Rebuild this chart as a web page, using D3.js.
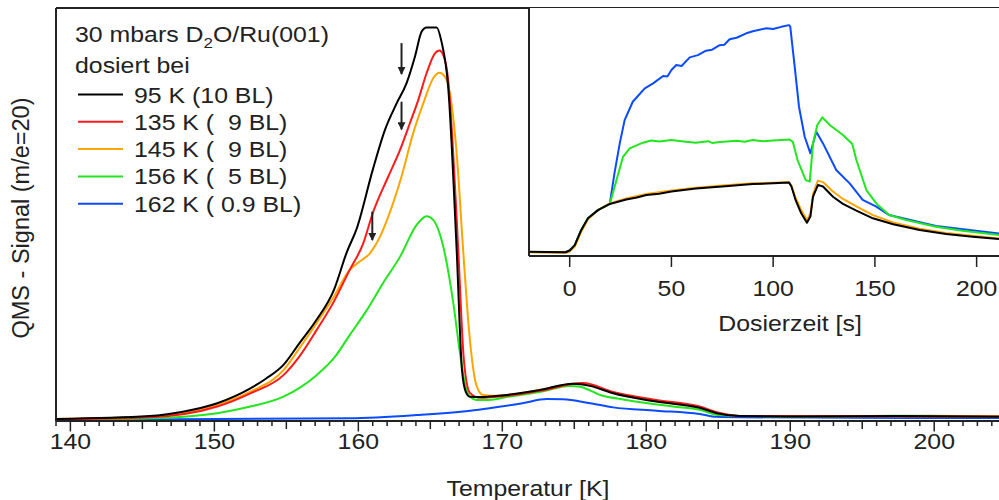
<!DOCTYPE html>
<html>
<head>
<meta charset="utf-8">
<script src="https://cdn.jsdelivr.net/npm/d3@7"></script>
<style>
  body { margin: 0; background: #fff; }
  text { font-family: "Liberation Sans", Arial, sans-serif; fill: #222; }
</style>
</head>
<body>
<div id="chart"></div>
<script>
// main TPD spectra: [temperature K, signal]
const black95 = [[139,0.5],[145.5,1.2],[147.8,2.25],[150.2,4.3],[152.5,7.9],[153.6,10.3],[154.8,13.6],[155.9,18.8],[157.1,24.5],[158.3,31.7],[159.2,40.9],[159.9,46.7],[161.0,60.8],[161.85,70.5],[162.66,76.9],[163.35,81.8],[163.93,88.2],[164.4,94.3],[164.74,95.3],[165.44,95.3],[165.78,91.8],[166.24,80.9],[166.83,41.4],[167.2,12.3],[167.47,7.0],[167.75,5.9],[168.44,5.8],[170.3,6.3],[172.6,7.5],[174.9,9.0],[176.1,8.5],[177.7,6.7],[180.7,4.7],[183.7,3.2],[184.9,1.9],[186.5,1.2],[190.7,1.1],[197.6,1.2],[204.5,1.0]];
const red135 = [[139,0.4],[145.5,0.9],[150.2,3.5],[152.5,6.7],[154.8,11.1],[155.9,15.6],[157.1,22.0],[158.3,28.9],[159.4,36.6],[160.34,43.0],[161.0,50.3],[162.08,59.2],[162.89,65.6],[163.58,72.1],[164.16,77.7],[164.74,84.2],[165.32,89.0],[165.62,89.7],[165.9,88.6],[166.24,82.6],[166.59,64.9],[166.94,41.4],[167.33,14.8],[167.75,6.8],[168.44,5.6],[170.3,6.1],[172.6,7.3],[175.6,9.2],[177.7,7.0],[180.7,5.1],[183.7,3.5],[184.9,2.1],[186.5,1.2],[204.5,1.1]];
const orange145 = [[139,0.5],[145.5,1.0],[150.2,3.9],[152.5,7.1],[154.8,12.3],[155.9,17.6],[157.1,23.7],[158.3,30.1],[159.4,36.6],[160.1,38.6],[160.8,40.6],[161.5,44.6],[162.08,49.5],[163.0,59.2],[163.81,69.7],[164.51,76.9],[165.2,83.0],[165.62,84.3],[166.01,83.4],[166.36,79.3],[166.83,64.8],[167.28,41.4],[167.75,19.6],[168.2,8.7],[168.65,6.3],[169.35,6.1],[170.3,6.3],[172.6,7.5],[175.2,9.1],[177.7,6.9],[180.7,4.8],[183.7,3.3],[184.9,1.9],[186.5,1.2],[204.5,1.1]];
const green156 = [[139,0.35],[145.5,0.65],[150.2,1.9],[152.5,3.5],[154.8,5.9],[157.1,11.1],[158.3,15.2],[159.4,20.8],[160.6,26.9],[161.7,33.3],[162.9,39.8],[164.05,47.5],[164.74,49.6],[165.2,48.7],[165.9,42.2],[166.6,28.5],[167.06,16.4],[167.4,9.1],[167.75,5.9],[168.2,5.1],[169.1,5.1],[170.3,5.8],[172.6,7.0],[174.7,8.5],[175.4,8.3],[176.8,6.3],[178.6,5.1],[181.85,3.5],[183.7,2.7],[184.9,1.5],[186.5,1.2],[190.7,1.1],[195.5,1.2],[199.7,1.3],[204.5,1.1]];
const blue162 = [[139,0.25],[159.4,0.65],[164.05,1.45],[167.75,2.5],[169.1,3.1],[171.4,4.3],[173.1,5.3],[174.2,5.25],[176.1,4.3],[177.7,3.3],[180.7,2.5],[183.7,1.7],[184.9,1.0],[186.5,0.9],[204.5,0.7]];

// inset: dosing time [s] vs signal
const insBlack = [[-20,1.75],[-2,1.5],[0,2.2],[2.5,4.4],[5.7,10.5],[9,15.2],[13.9,18.5],[19.7,21],[27.8,22.8],[33,23.6],[37.7,24.6],[44,25.1],[50,26],[62,27.2],[75,28],[90,29],[100,29.3],[107.8,29.6],[109,28],[111,22.6],[113.8,17.2],[116.6,13.4],[118.3,15.9],[119.6,23.9],[122,28.6],[124.5,28],[129.4,23.9],[134.3,21],[140.9,18.3],[149,15.2],[159,12.8],[172,10.5],[185,8.9],[198,7.8],[211,6.9]];
const insOrange = [[-20,1.5],[-2,1.3],[0,1.8],[2.5,3.8],[5.7,9.8],[9,14.8],[13.9,18.5],[19.7,21.2],[27.8,23.2],[37.7,25],[50,26.4],[62,27.5],[75,28.4],[90,29.3],[100,29.5],[107.8,29.7],[109,28.3],[111,23.5],[113.8,18.5],[116.6,14.5],[118.3,17],[119.6,25],[122,30.4],[124.5,29.8],[129.4,26],[134.3,23],[140.9,20],[149,16.5],[159,13.5],[172,11],[185,9.3],[198,8.2],[211,7.1]];
const insGreen = [[-20,1.6],[-2,1.5],[0,2.2],[2.5,4.4],[5.7,10.5],[9,15.2],[13.9,18.5],[19.7,21],[23,30.6],[26.2,40],[29.5,43.4],[36,45.7],[40,46.6],[44,46.2],[50,46.8],[56,46.2],[62,45.7],[68,46.3],[70,45.6],[74,46],[82,46.5],[86,46.1],[90,46.8],[95,46.3],[100,46.6],[108,47],[109.7,46],[112,38.7],[116,30.6],[118,30],[119.6,45.4],[121.7,52.8],[124.2,55.9],[127.8,52.8],[134.3,48.8],[138.9,45.2],[140.9,38.7],[145.8,26.6],[150.7,21.2],[157,16.5],[165.4,14.5],[180,11.8],[193,10.2],[211,8.5]];
const insBlue = [[-20,1.6],[-2,1.5],[0,2.2],[2.5,4.4],[5.7,10.5],[9,15.2],[13.9,18.5],[19.7,21],[22,33.3],[24.6,45.4],[27,54.8],[31,62.2],[36.9,67.6],[41,69.6],[45.9,72.6],[48,72.4],[50,75],[52.4,77],[55,76.6],[59,80.1],[63,81],[67,82.8],[70,83.2],[73.7,85],[76,85.2],[78.6,87.4],[82,88],[86.8,89.8],[90,90.6],[96.6,91.8],[100,91.5],[104,92.4],[107.8,93.1],[108.4,92.5],[110.6,76.3],[112.7,60.2],[115.5,48.1],[118.3,41.4],[119.6,45.4],[121.2,50.1],[124.5,45.4],[131,34.7],[137.6,29.3],[144,22.6],[150.7,19.9],[157,16.5],[180,12.1],[211,9.1]];

const seriesNames = ["95 K (10 BL)", "135 K (  9 BL)", "145 K (  9 BL)", "156 K (  5 BL)", "162 K ( 0.9 BL)"];
const seriesColors = ["#000000", "#ff1a1a", "#ffa500", "#22e61e", "#0a4bff"];
const xTickLabels = [140, 150, 160, 170, 180, 190, 200];
const insTickLabels = [0, 50, 100, 150, 200];
// arrows: [T, top, tip]
const arrows = [[163.0, 91.5, 84.0], [163.0, 77.3, 70.6], [160.97, 50.7, 43.8]];

const W = 999, H = 500;
const FS = 22, SX = 1.13; // text is a bit wider than the font
const svg = d3.select("#chart").append("svg").attr("width", W).attr("height", H);

function label(g, px, py, anchor) {
  return g.append("text")
    .attr("transform", `translate(${px},${py}) scale(${SX},1)`)
    .attr("text-anchor", anchor || "start")
    .attr("font-size", FS)
    .attr("xml:space", "preserve")
    .style("white-space", "pre");
}

// Main plot
const x = d3.scaleLinear().domain([139, 204.5]).range([56, 999]);
const y = d3.scaleLinear().domain([0, 100]).range([421, 8]);

const line = d3.line().x((d) => x(d[0])).y((d) => y(d[1])).curve(d3.curveMonotoneX);
const mainData = [black95, red135, orange145, green156, blue162];

[4, 3, 2, 1, 0].forEach((i) => {
  svg.append("path").datum(mainData[i])
    .attr("fill", "none").attr("stroke", seriesColors[i])
    .attr("stroke-width", 2).attr("stroke-linejoin", "round")
    .attr("d", line);
});

// arrows
svg.append("defs").append("marker")
  .attr("id", "ah").attr("viewBox", "0 0 10 10").attr("refX", 9).attr("refY", 5)
  .attr("markerUnits", "userSpaceOnUse")
  .attr("markerWidth", 12).attr("markerHeight", 8).attr("orient", "auto")
  .append("path").attr("d", "M0,0 L10,5 L0,10 z").attr("fill", "#222");
svg.selectAll(".arrow").data(arrows).join("line")
  .attr("x1", (d) => x(d[0])).attr("x2", (d) => x(d[0]))
  .attr("y1", (d) => y(d[1])).attr("y2", (d) => y(d[2]))
  .attr("stroke", "#222").attr("stroke-width", 2)
  .attr("marker-end", "url(#ah)");

// X axis with minor/medium/major ticks
const axisG = svg.append("g");
axisG.selectAll("line.tick").data(d3.range(139, 205, 1)).join("line")
  .attr("x1", (d) => x(d)).attr("x2", (d) => x(d))
  .attr("y1", 421).attr("y2", (d) => 421 + (d % 10 === 0 ? 10.5 : d % 5 === 0 ? 8 : 5))
  .attr("stroke", "#222").attr("stroke-width", 1.5);
axisG.append("line").attr("x1", 56).attr("x2", 999).attr("y1", 421).attr("y2", 421)
  .attr("stroke", "#222").attr("stroke-width", 2);
xTickLabels.forEach((d) => label(axisG, x(d), 449, "middle").text(d));
label(svg, 528, 496, "middle").text("Temperatur [K]");

// left & top frame
svg.append("line").attr("x1", 56).attr("x2", 56).attr("y1", 8).attr("y2", 421)
  .attr("stroke", "#222").attr("stroke-width", 2);
svg.append("line").attr("x1", 56).attr("x2", 999).attr("y1", 8).attr("y2", 8)
  .attr("stroke", "#222").attr("stroke-width", 2);

svg.append("text").attr("transform", "translate(29,218) rotate(-90)")
  .attr("text-anchor", "middle").attr("font-size", 23.5).text("QMS - Signal (m/e=20)");

// Legend
const leg = svg.append("g");
const t1 = label(leg, 75, 42);
t1.append("tspan").text("30 mbars D");
t1.append("tspan").attr("font-size", 15).attr("dy", 6).text("2");
t1.append("tspan").attr("dy", -6).text("O/Ru(001)");
label(leg, 75, 73).text("dosiert bei");
seriesNames.forEach((n, i) => {
  const yy = 94.5 + i * 27.3;
  leg.append("line").attr("x1", 78).attr("x2", 123).attr("y1", yy).attr("y2", yy)
    .attr("stroke", seriesColors[i]).attr("stroke-width", 2);
  label(leg, 134, yy + 8).text(n);
});

// Inset
const ix = d3.scaleLinear().domain([-20, 211]).range([529, 999]);
const iy = d3.scaleLinear().domain([0, 100]).range([256, 8]);
svg.append("rect").attr("x", 529).attr("y", 8).attr("width", 470).attr("height", 248).attr("fill", "#fff");
const iline = d3.line().x((d) => ix(d[0])).y((d) => iy(d[1]));
const insData = [[insBlue, "#0a4bff"], [insGreen, "#22e61e"], [insOrange, "#ffa500"], [insBlack, "#000000"]];
insData.forEach(([d, c]) => {
  svg.append("path").datum(d).attr("fill", "none").attr("stroke", c)
    .attr("stroke-width", 2).attr("stroke-linejoin", "round").attr("d", iline);
});
svg.append("line").attr("x1", 529).attr("x2", 529).attr("y1", 8).attr("y2", 256)
  .attr("stroke", "#222").attr("stroke-width", 2);
svg.append("line").attr("x1", 529).attr("x2", 999).attr("y1", 256).attr("y2", 256)
  .attr("stroke", "#222").attr("stroke-width", 2);
svg.selectAll("line.itick").data(insTickLabels).join("line")
  .attr("x1", (d) => ix(d)).attr("x2", (d) => ix(d)).attr("y1", 256).attr("y2", 267)
  .attr("stroke", "#222").attr("stroke-width", 1.5);
const insG = svg.append("g");
insTickLabels.forEach((d) => label(insG, ix(d), 296, "middle").text(d));
label(insG, 790, 331, "middle").text("Dosierzeit [s]");
</script>
</body>
</html>
